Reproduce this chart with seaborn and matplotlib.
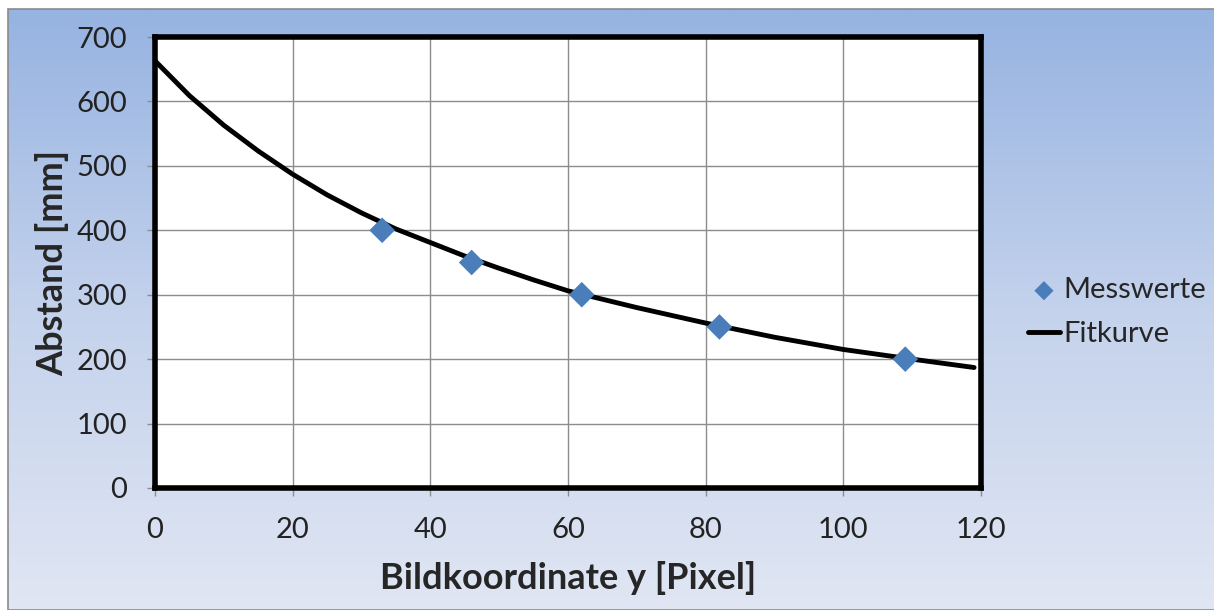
import numpy as np
import pandas as pd
import seaborn as sns
import matplotlib.pyplot as plt
from matplotlib.colors import LinearSegmentedColormap
from matplotlib.patches import Rectangle

# Messwerte
mess_x = [33, 46, 62, 82, 109]
mess_y = [400, 350, 300, 250, 200]

# Fitkurve
fit_x = [0, 5, 10, 15, 20, 25, 30, 35, 40, 45, 50, 55, 60, 70, 80, 90, 100, 110, 119]
fit_y = [663, 609, 563, 523, 487, 455, 427, 402, 381, 360, 341, 323, 306, 280, 256, 234, 215, 200, 187]

x_ticks = [0, 20, 40, 60, 80, 100, 120]
y_ticks = [0, 100, 200, 300, 400, 500, 600, 700]

sns.set_theme(style="white")
plt.rcParams['font.family'] = ['Lato', 'DejaVu Sans']

fig = plt.figure(figsize=(12.14, 6.10), dpi=100)

# Hintergrund mit Farbverlauf
bg = fig.add_axes([8 / 1214, 0, 1 - 8 / 1214, 1 - 9 / 610], zorder=-10)
grad = np.linspace(0, 1, 256).reshape(-1, 1)
cmap = LinearSegmentedColormap.from_list("bg", ["#96b3e1", "#c4d2ec", "#e0e6f3"])
bg.imshow(grad, aspect="auto", cmap=cmap, extent=[0, 1, 0, 1], origin="upper")
bg.set_xlim(0, 1)
bg.set_ylim(0, 1)
bg.axis("off")
fig.add_artist(Rectangle((8 / 1214, 0), 1, 1 - 9 / 610, transform=fig.transFigure,
                         fill=False, edgecolor="#8a8a8a", linewidth=1.2, zorder=-5))

ax = fig.add_axes([155 / 1214, 122 / 610, 826 / 1214, 451 / 610])
ax.set_facecolor("white")

df_fit = pd.DataFrame({"x": fit_x, "y": fit_y})
df_mess = pd.DataFrame({"x": mess_x, "y": mess_y})

sns.lineplot(data=df_fit, x="x", y="y", ax=ax, color="black", linewidth=3.5,
             label="Fitkurve", zorder=3)
sns.scatterplot(data=df_mess, x="x", y="y", ax=ax, marker="D", s=170,
                color="#4a7ebb", edgecolor="none", label="Messwerte", zorder=4)

ax.set_xlim(0, 120)
ax.set_ylim(0, 700)
ax.set_xticks(x_ticks)
ax.set_yticks(y_ticks)
ax.grid(True, color="#8c8c8c", linewidth=1.0)
ax.set_axisbelow(True)
for s in ax.spines.values():
    s.set_color("black")
    s.set_linewidth(4)
ax.tick_params(axis="both", labelsize=21, colors="#222222", length=6, width=1,
               direction="out")
ax.tick_params(axis="x", pad=15)
ax.tick_params(axis="y", pad=14)
ax.tick_params(axis="both", color="#8c8c8c")
ax.xaxis.set_ticks_position("bottom")
ax.yaxis.set_ticks_position("left")

ax.set_xlabel("Bildkoordinate y [Pixel]", fontsize=26, fontweight="bold", labelpad=13)
ax.set_ylabel("Abstand [mm]", fontsize=26, fontweight="bold", labelpad=5)

handles, labels = ax.get_legend_handles_labels()
order = [labels.index("Messwerte"), labels.index("Fitkurve")]
ax.legend([handles[i] for i in order], [labels[i] for i in order],
          loc="center left", bbox_to_anchor=(1.025, 0.39), frameon=False,
          fontsize=21, handlelength=1.1, handletextpad=0.1, labelspacing=0.6,
          markerscale=0.75)

fig.savefig("out.png", dpi=100)
